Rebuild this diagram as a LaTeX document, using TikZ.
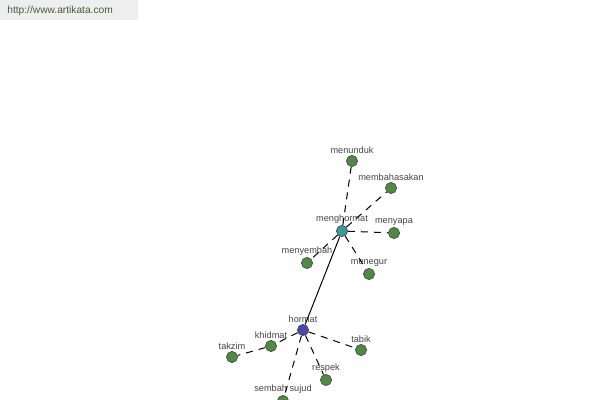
\documentclass[tikz,border=0pt]{standalone}
\usepackage{fontspec}
\setmainfont{Liberation Sans}
\usepackage{xcolor}
\usetikzlibrary{arrows,positioning}

\definecolor{leafgreen}{HTML}{4E8A42}
\definecolor{midteal}{HTML}{3C9A9C}
\definecolor{rootblue}{HTML}{4848B0}
\definecolor{labelgray}{HTML}{454545}
\definecolor{bargray}{HTML}{EEEEEE}
\definecolor{urlgreen}{HTML}{4A5A3A}

\begin{document}
\begin{tikzpicture}[x=0.5pt,y=-0.5pt,every node/.append style={align=center},
  every label/.style={font=\fontsize{4.6}{5}\selectfont, text=labelgray, inner sep=0.6pt},
  word/.style={circle, draw=black!70, line width=0.35pt, minimum size=5.6pt, inner sep=0pt, label distance=0pt},
  leaf/.style={word, fill=leafgreen},
  mid/.style={word, fill=midteal},
  root/.style={word, fill=rootblue},
  syn/.style={draw=black, line width=0.5pt, dash pattern=on 3.5pt off 3pt},
  main/.style={draw=black, line width=0.5pt}]
    \useasboundingbox (0,0) rectangle (600,400);
    \fill[bargray] (0,0) rectangle (138,20);
    \node [anchor=west, text=urlgreen, font=\fontsize{5.1}{6}\selectfont, inner sep=0pt] (url) at (7,11) {http://www.artikata.com};
    % pusat
    \node [root, label=above:hormat] (hormat) at (303,330) {};
    \node [mid, label=above:menghormat] (menghormat) at (342,231) {};
    % cabang dari menghormat
    \node [leaf, label=above:menunduk] (menunduk) at (352,161) {};
    \node [leaf, label=above:membahasakan] (membahasakan) at (391,188) {};
    \node [leaf, label=above:menyapa] (menyapa) at (394,233) {};
    \node [leaf, label=above:menyembah] (menyembah) at (307,263) {};
    \node [leaf, label=above:menegur] (menegur) at (369,274) {};
    % cabang dari hormat
    \node [leaf, label=above:khidmat] (khidmat) at (271,346) {};
    \node [leaf, label=above:takzim] (takzim) at (232,357) {};
    \node [leaf, label=above:tabik] (tabik) at (361,350) {};
    \node [leaf, label=above:respek] (respek) at (326,380) {};
    \node [leaf, label=above:sembah sujud] (sujud) at (283,401) {};
    \path[main] (hormat) edge (menghormat);
    \path[syn] (menghormat) edge (menunduk);
    \path[syn] (menghormat) edge (membahasakan);
    \path[syn] (menghormat) edge (menyapa);
    \path[syn] (menghormat) edge (menyembah);
    \path[syn] (menghormat) edge (menegur);
    \path[syn] (hormat) edge (khidmat);
    \path[syn] (khidmat) edge (takzim);
    \path[syn] (hormat) edge (tabik);
    \path[syn] (hormat) edge (respek);
    \path[syn] (hormat) edge (sujud);
\end{tikzpicture}
\end{document}
